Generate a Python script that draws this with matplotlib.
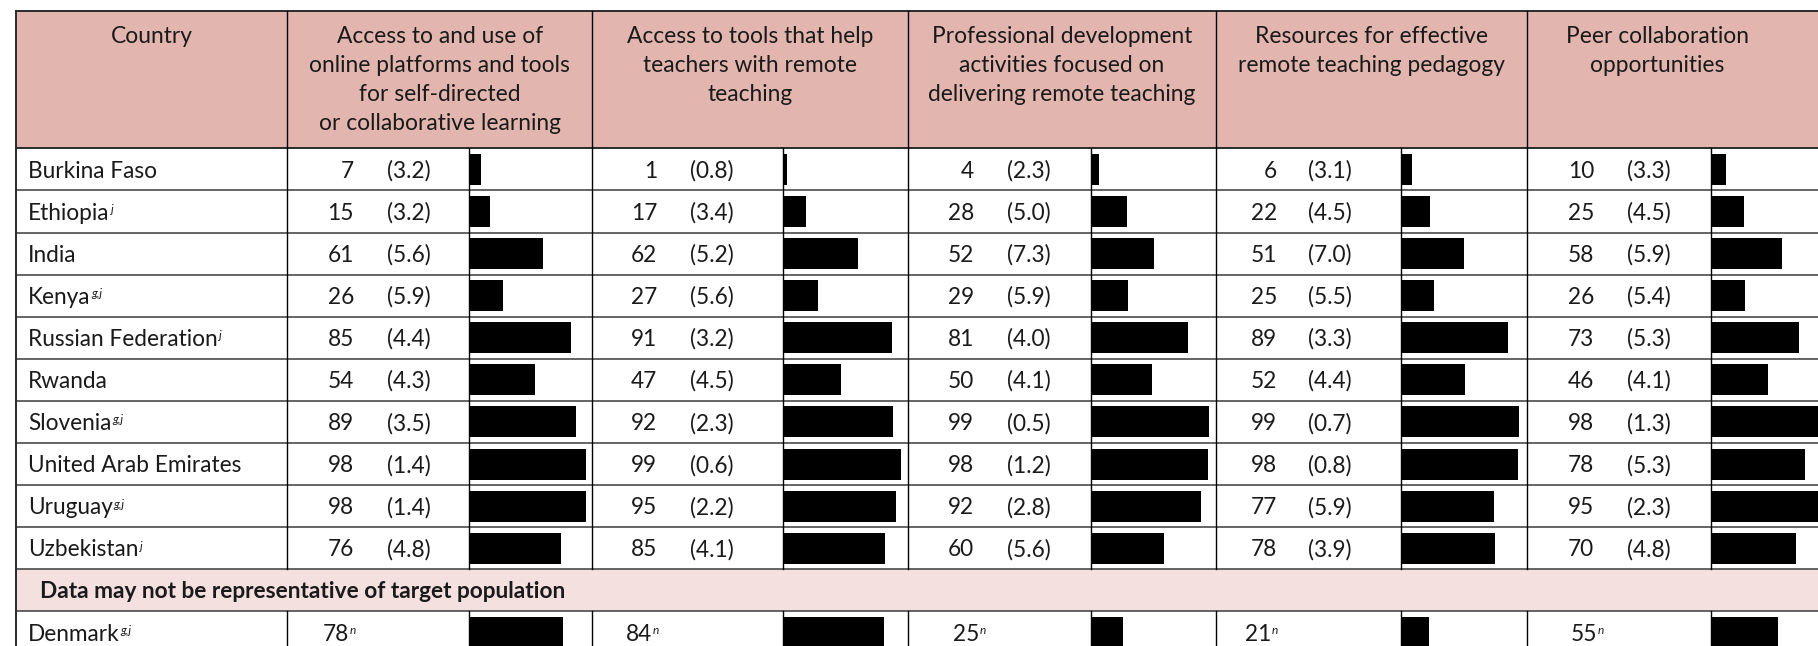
import matplotlib
matplotlib.use("Agg")
import matplotlib.pyplot as plt
from matplotlib.patches import Rectangle

# ---------------- data ----------------
countries = ["Burkina Faso", "Ethiopia", "India", "Kenya", "Russian Federation",
             "Rwanda", "Slovenia", "United Arab Emirates", "Uruguay", "Uzbekistan"]
country_notes = ["", "j", "", "g,j", "j", "", "g,j", "", "g,j", "j"]

extra_country = "Denmark"
extra_country_note = "g,j"
extra_value_note = "n"
note_row_label = "Data may not be representative of target population"

headers = ["Country",
           "Access to and use of\nonline platforms and tools\nfor self-directed\nor collaborative learning",
           "Access to tools that help\nteachers with remote\nteaching",
           "Professional development\nactivities focused on\ndelivering remote teaching",
           "Resources for effective\nremote teaching pedagogy",
           "Peer collaboration\nopportunities"]

online_platforms = [7, 15, 61, 26, 85, 54, 89, 98, 98, 76]
online_platforms_se = [3.2, 3.2, 5.6, 5.9, 4.4, 4.3, 3.5, 1.4, 1.4, 4.8]
tools_remote = [1, 17, 62, 27, 91, 47, 92, 99, 95, 85]
tools_remote_se = [0.8, 3.4, 5.2, 5.6, 3.2, 4.5, 2.3, 0.6, 2.2, 4.1]
prof_dev = [4, 28, 52, 29, 81, 50, 99, 98, 92, 60]
prof_dev_se = [2.3, 5.0, 7.3, 5.9, 4.0, 4.1, 0.5, 1.2, 2.8, 5.6]
pedagogy = [6, 22, 51, 25, 89, 52, 99, 98, 77, 78]
pedagogy_se = [3.1, 4.5, 7.0, 5.5, 3.3, 4.4, 0.7, 0.8, 5.9, 3.9]
peer_collab = [10, 25, 58, 26, 73, 46, 98, 78, 95, 70]
peer_collab_se = [3.3, 4.5, 5.9, 5.4, 5.3, 4.1, 1.3, 5.3, 2.3, 4.8]
denmark_values = [78, 84, 25, 21, 55]

series = [online_platforms, tools_remote, prof_dev, pedagogy, peer_collab]
series_se = [online_platforms_se, tools_remote_se, prof_dev_se, pedagogy_se, peer_collab_se]

# ---------------- layout / style (pixels) ----------------
W, H = 1818, 646
TABLE_LEFT, TABLE_TOP = 15.8, 11.0
HEADER_BOTTOM = 148.3
ROW_H = 42.1
COL_EDGES = [15.8, 287.4, 592.2, 907.5, 1216.0, 1527.0, 1860.0]
HEADER_CX = [151.6, 439.8, 750.0, 1061.7, 1371.5, 1657.0]
NUM_RIGHT = [354, 657, 974, 1277, 1594]
SE_LEFT = [387, 690, 1007, 1308, 1627]
DEN_LEFT = [323, 626, 953, 1245, 1570.5]
BAR_X = [468.8, 782.6, 1090.5, 1401.0, 1711.0]
PX_PER_UNIT = 1.16
BAR_PAD_PX = 3.6
BAR_FRAC = 0.735
COUNTRY_X = 28.0
NOTE_X = 40.0

HEADER_FILL = "#E2B5AE"
NOTE_FILL = "#F3E0DF"
BORDER = "#2b2b2b"
ROWLINE = "#4a4a4a"
TEXT = "#1a1a1a"
FONT = "Lato"
FS = 16.3
FS_HEAD = 16.4
FS_SUP = 8.6
SUP_RISE = 6.8      # px above main baseline
HEAD_BASE0 = 42.7
HEAD_LSP = 29.0

plt.rcParams["font.family"] = [FONT, "DejaVu Sans"]

fig = plt.figure(figsize=(W / 100, H / 100), dpi=100)
fig.patch.set_facecolor("white")
ax = fig.add_axes([0, 0, 1, 1])
ax.set_xlim(0, W)
ax.set_ylim(H, 0)
ax.axis("off")

n_rows = len(countries) + 2  # data rows + note row + Denmark
note_idx = len(countries)
den_idx = len(countries) + 1
table_bottom = HEADER_BOTTOM + n_rows * ROW_H


def row_top(i):
    return HEADER_BOTTOM + i * ROW_H


def row_base(i):
    return row_top(i) + ROW_H / 2 + 0.36 * FS * 100 / 72


# fills
ax.add_patch(Rectangle((TABLE_LEFT, TABLE_TOP), W - TABLE_LEFT + 50, HEADER_BOTTOM - TABLE_TOP,
                       facecolor=HEADER_FILL, edgecolor="none", zorder=0))
ax.add_patch(Rectangle((TABLE_LEFT, row_top(note_idx)), W - TABLE_LEFT + 50, ROW_H,
                       facecolor=NOTE_FILL, edgecolor="none", zorder=0))

# horizontal lines
ax.plot([TABLE_LEFT, W + 10], [TABLE_TOP, TABLE_TOP], color=BORDER, lw=1.4, zorder=2)
ax.plot([TABLE_LEFT, W + 10], [HEADER_BOTTOM, HEADER_BOTTOM], color=BORDER, lw=1.4, zorder=2)
for i in range(1, n_rows + 1):
    y = row_top(i)
    ax.plot([TABLE_LEFT, W + 10], [y, y], color=ROWLINE, lw=1.2, zorder=2)

# vertical lines (skip note row)
segments = [(TABLE_TOP, row_top(note_idx)), (row_top(note_idx + 1), table_bottom)]
ax.plot([TABLE_LEFT, TABLE_LEFT], [TABLE_TOP, table_bottom], color=BORDER, lw=1.4, zorder=2)
for x in COL_EDGES[1:-1]:
    for y0, y1 in segments:
        ax.plot([x, x], [y0, y1], color="black", lw=1.0, zorder=2)
bar_segments = [(HEADER_BOTTOM, row_top(note_idx)), (row_top(note_idx + 1), table_bottom)]
for x in BAR_X:
    for y0, y1 in bar_segments:
        ax.plot([x, x], [y0, y1], color="black", lw=1.0, zorder=2)

# header text
for cx, label in zip(HEADER_CX, headers):
    for k, line in enumerate(label.split("\n")):
        ax.text(cx, HEAD_BASE0 + k * HEAD_LSP, line, ha="center", va="baseline",
                fontsize=FS_HEAD, color=TEXT, zorder=3)

pending_sups = []


def label_with_sup(x, y, text, sup):
    t = ax.text(x, y, text, ha="left", va="baseline", fontsize=FS, color=TEXT, zorder=3)
    if sup:
        pending_sups.append((t, y, sup))
    return t


# country labels
for i, (c, note) in enumerate(zip(countries, country_notes)):
    label_with_sup(COUNTRY_X, row_base(i), c, note)
label_with_sup(COUNTRY_X, row_base(den_idx), extra_country, extra_country_note)

# note row
ax.text(NOTE_X, row_base(note_idx), note_row_label, ha="left", va="baseline",
        fontsize=FS, fontweight="bold", color=TEXT, zorder=3)

# values and SEs
for c in range(len(series)):
    for i, (v, se) in enumerate(zip(series[c], series_se[c])):
        ax.text(NUM_RIGHT[c], row_base(i), f"{v}", ha="right", va="baseline",
                fontsize=FS, color=TEXT, zorder=3)
        ax.text(SE_LEFT[c], row_base(i), f"({se:.1f})", ha="left", va="baseline",
                fontsize=FS, color=TEXT, zorder=3)
    label_with_sup(DEN_LEFT[c], row_base(den_idx), f"{denmark_values[c]}", extra_value_note)

# place superscripts after measuring text extents
renderer = fig.canvas.get_renderer()
inv = ax.transData.inverted()
for t, y, sup in pending_sups:
    bb = t.get_window_extent(renderer)
    x_end = inv.transform((bb.x1, bb.y0))[0]
    ax.text(x_end + 0.5, y - SUP_RISE, sup, ha="left", va="baseline", fontsize=FS_SUP,
            style="italic", color=TEXT, zorder=3)

# bars: one axes per column, scale in percent units
for c in range(len(series)):
    x0 = BAR_X[c]
    x1 = COL_EDGES[c + 2] if c + 2 < len(COL_EDGES) else W + 60
    width_px = x1 - x0
    bax = fig.add_axes([x0 / W, 1 - table_bottom / H, width_px / W, (table_bottom - HEADER_BOTTOM) / H])
    bax.set_xlim(0, width_px / PX_PER_UNIT)
    bax.set_ylim(n_rows, 0)
    bax.axis("off")
    bax.patch.set_alpha(0)
    vals = list(series[c]) + [denmark_values[c]]
    ypos = [i + 0.5 for i in range(len(countries))] + [den_idx + 0.5]
    bax.barh(ypos, [v + BAR_PAD_PX / PX_PER_UNIT for v in vals], left=0, height=BAR_FRAC,
             color="black", edgecolor="none")

fig.savefig("out.png", dpi=100, facecolor="white")
